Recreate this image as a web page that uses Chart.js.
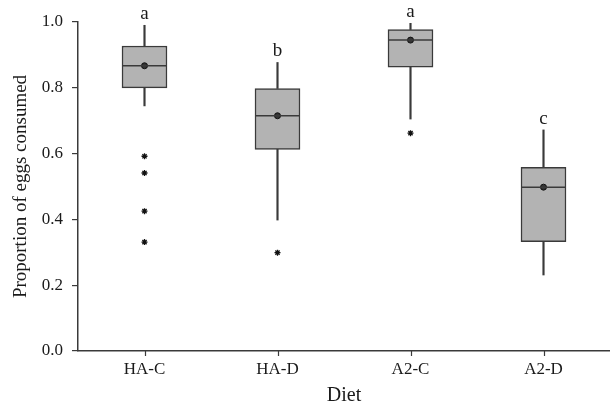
<!DOCTYPE html>
<html>
<head>
<meta charset="utf-8">
<script src="https://cdn.jsdelivr.net/npm/chart.js@4"></script>
<style>
  body { margin: 0; background: #fff; }
</style>
</head>
<body>
<canvas id="boxChart" width="610" height="408"></canvas>
<script>
// data
const diets = ['HA-C', 'HA-D', 'A2-C', 'A2-D'];
const whiskerLow = [0.745, 0.398, 0.705, 0.231];
const q1 = [0.800, 0.613, 0.863, 0.332];
const median = [0.867, 0.715, 0.945, 0.498];
const q3 = [0.927, 0.798, 0.977, 0.558];
const whiskerHigh = [0.990, 0.877, 0.996, 0.672];
const means = [0.867, 0.715, 0.945, 0.498];
const outliers = [[0.592, 0.541, 0.425, 0.331], [0.299], [0.662], []];
const letters = ['a', 'b', 'a', 'c'];
const yTicks = [0, 0.2, 0.4, 0.6, 0.8, 1.0];

const serif = '"Liberation Serif", "DejaVu Serif", serif';
const ink = '#3a3a3a';

// median lines, x tick marks and significance letters
const boxExtras = {
    id: 'boxExtras',
    afterDatasetsDraw(chart) {
        const ctx = chart.ctx;
        const x = chart.scales.x, y = chart.scales.y;
        const half = 22.5;
        ctx.save();
        ctx.strokeStyle = ink;
        ctx.lineWidth = 1.5;
        median.forEach((m, i) => {
            const cx = x.getPixelForValue(i);
            const py = y.getPixelForValue(m);
            ctx.beginPath();
            ctx.moveTo(cx - half, py);
            ctx.lineTo(cx + half, py);
            ctx.stroke();
        });
        ctx.restore();
    },
    afterDraw(chart) {
        const ctx = chart.ctx;
        const x = chart.scales.x, y = chart.scales.y;
        ctx.save();
        ctx.strokeStyle = ink;
        ctx.lineWidth = 1.2;
        diets.forEach((d, i) => {
            const cx = Math.round(x.getPixelForValue(i)) + 0.5;
            ctx.beginPath();
            ctx.moveTo(cx, y.bottom);
            ctx.lineTo(cx, y.bottom + 5);
            ctx.stroke();
        });
        ctx.fillStyle = '#1a1a1a';
        ctx.font = '19px ' + serif;
        ctx.textAlign = 'center';
        ctx.textBaseline = 'alphabetic';
        letters.forEach((l, i) => {
            ctx.fillText(l, x.getPixelForValue(i), y.getPixelForValue(whiskerHigh[i]) - 6);
        });
        ctx.restore();
    }
};

const outlierPoints = [];
outliers.forEach((list, i) => list.forEach(v => outlierPoints.push({ x: diets[i], y: v })));

new Chart(document.getElementById('boxChart'), {
    type: 'bar',
    data: {
        labels: diets,
        datasets: [
            {
                label: 'mean',
                type: 'line',
                data: means.map((v, i) => ({ x: diets[i], y: v })),
                showLine: false,
                pointRadius: 3,
                pointBackgroundColor: '#333',
                pointBorderColor: '#111',
                pointBorderWidth: 1,
                order: 0
            },
            {
                label: 'outliers',
                type: 'line',
                data: outlierPoints,
                showLine: false,
                pointStyle: 'star',
                pointRadius: 3,
                pointBorderColor: '#111',
                pointBorderWidth: 1.3,
                order: 0
            },
            {
                label: 'box',
                data: diets.map((d, i) => [q1[i], q3[i]]),
                backgroundColor: '#b3b3b3',
                borderColor: ink,
                borderWidth: 1.5,
                borderSkipped: false,
                barThickness: 45,
                order: 1
            },
            {
                label: 'lower whisker',
                data: diets.map((d, i) => [whiskerLow[i], q1[i]]),
                backgroundColor: ink,
                borderWidth: 0,
                barThickness: 1.5,
                order: 2
            },
            {
                label: 'upper whisker',
                data: diets.map((d, i) => [q3[i], whiskerHigh[i]]),
                backgroundColor: ink,
                borderWidth: 0,
                barThickness: 1.5,
                order: 2
            }
        ]
    },
    options: {
        responsive: false,
        animation: false,
        grouped: false,
        layout: { autoPadding: false, padding: { top: 22, right: 0, left: 0, bottom: 0 } },
        plugins: { legend: { display: false }, tooltip: { enabled: false } },
        scales: {
            x: {
                grid: { display: false },
                border: { color: ink, width: 1.5 },
                ticks: { color: '#1a1a1a', font: { family: serif, size: 17 }, padding: 0 },
                title: { display: true, text: 'Diet', color: '#1a1a1a', font: { family: serif, size: 20 }, padding: { top: 0, bottom: 0 } },
                afterFit(scale) {
                    scale.height = 57;
                    scale.paddingLeft = 0;
                    scale.paddingRight = 0;
                }
            },
            y: {
                min: 0,
                max: 1,
                afterBuildTicks(scale) { scale.ticks = yTicks.map(v => ({ value: v })); },
                grid: { drawOnChartArea: false, tickLength: 6, color: ink, lineWidth: 1.2 },
                border: { color: ink, width: 1.5 },
                ticks: {
                    color: '#1a1a1a',
                    font: { family: serif, size: 17 },
                    padding: 9,
                    callback: v => v.toFixed(1)
                },
                title: { display: true, text: 'Proportion of eggs consumed', color: '#1a1a1a', font: { family: serif, size: 19 }, padding: { top: 10, bottom: 0 } },
                afterFit(scale) { scale.width = 78; }
            }
        }
    },
    plugins: [boxExtras]
});
</script>
</body>
</html>
